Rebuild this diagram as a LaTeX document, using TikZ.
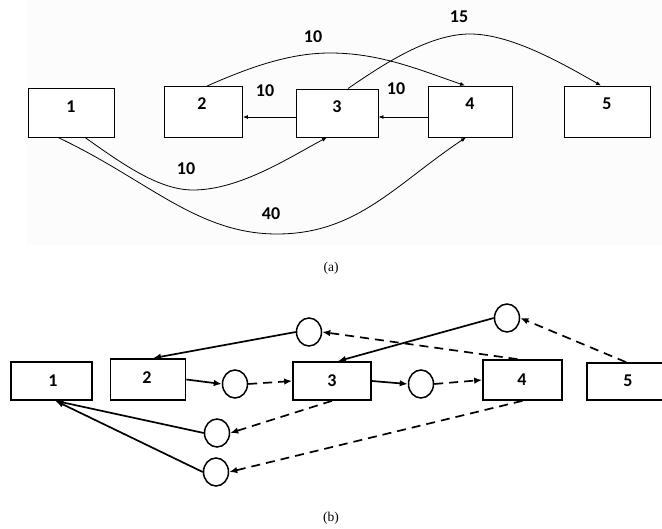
\documentclass[tikz,border=0pt]{standalone}
\usepackage{fontspec}
\setmainfont{Carlito}
\newfontfamily\capfont{Liberation Serif}
\usetikzlibrary{shapes.geometric, arrows.meta}

\tikzset{
  boxa/.style={draw, rectangle, line width=0.9pt, fill=white},
  boxb/.style={draw, rectangle, line width=1.7pt},
  num/.style={font=\fontsize{18}{21}\selectfont\bfseries, inner sep=0pt},
  cerchio/.style={draw, ellipse, line width=1.5pt, minimum width=25, minimum height=28, inner sep=0pt},
  linea/.style={-{Latex[length=5pt,width=4pt]}, line width=0.8pt},
  piena/.style={-{Latex[length=8pt,width=6.5pt]}, line width=1.7pt},
  tratto/.style={-{Latex[length=8pt,width=6.5pt]}, line width=1.7pt, dash pattern=on 9pt off 6pt},
  didascalia/.style={font=\capfont\fontsize{13.5}{15}\selectfont, inner sep=0pt}
}

\begin{document}
\begin{tikzpicture}[x=1pt, y=-1pt, >=latex]
    \useasboundingbox (0,0) rectangle (662,529);
    % Sfondo grigio del pannello (a)
    \fill[black!1.2] (27,0) rectangle (662,245);

    % Pannello (a): blocchi
    \node[boxa, minimum width=86, minimum height=49] (t1) at (71,112.5) {};
    \node[boxa, minimum width=78, minimum height=51] (t2) at (203.5,112) {};
    \node[boxa, minimum width=82, minimum height=48] (t3) at (337,113) {};
    \node[boxa, minimum width=84, minimum height=51] (t4) at (470.5,111.5) {};
    \node[boxa, minimum width=86, minimum height=51] (t5) at (607.5,111.5) {};
    \node[num] (t1n) at (71,107) {1};
    \node[num] (t2n) at (202,104) {2};
    \node[num] (t3n) at (337,107) {3};
    \node[num] (t4n) at (470,104) {4};
    \node[num] (t5n) at (607,104) {5};

    % Archi sopra i blocchi
    \draw[linea] ([xshift=3.5]t2.north) .. controls (250,67) and (290,53) .. (330,53)
        .. controls (380,53) and (420,70) .. ([xshift=-5.5]t4.north);
    \draw[linea] ([xshift=11]t3.north) .. controls (385,63) and (430,34) .. (470,34)
        .. controls (510,34) and (560,62) .. ([xshift=-6.5]t5.north);

    % Frecce orizzontali
    \draw[linea] (t3.west |- 0,117) -- (t2.east |- 0,117);
    \draw[linea] (t4.west |- 0,117) -- (t3.east |- 0,117);

    % Archi sotto i blocchi
    \draw[linea] ([xshift=14]t1.south) .. controls (125,166) and (160,190) .. (193,190)
        .. controls (240,190) and (290,157) .. ([xshift=-10]t3.south);
    \draw[linea] ([xshift=-13]t1.south) .. controls (148,180) and (197,234) .. (277,234)
        .. controls (357,234) and (396,184) .. ([xshift=-4.5]t4.south);

    % Pesi
    \node[num] (l24) at (313,37) {10};
    \node[num] (l35) at (459,17) {15};
    \node[num] (l32) at (265,91) {10};
    \node[num] (l43) at (396,89) {10};
    \node[num] (l13) at (186,169) {10};
    \node[num] (l14) at (271,214) {40};

    \node[didascalia] (capa) at (331,268) {(a)};

    % Pannello (b): blocchi
    \node[boxb, minimum width=81, minimum height=38] (b1) at (51.5,381) {};
    \node[boxb, minimum width=75, minimum height=41] (b2) at (148,379.5) {};
    \node[boxb, minimum width=78, minimum height=38] (b3) at (332,381) {};
    \node[boxb, minimum width=79, minimum height=40] (b4) at (522.5,380) {};
    \node[boxb, minimum width=78, minimum height=37] (b5) at (626,381.5) {};
    \node[num] (b1n) at (53,381) {1};
    \node[num] (b2n) at (147,378) {2};
    \node[num] (b3n) at (332,381) {3};
    \node[num] (b4n) at (522,380) {4};
    \node[num] (b5n) at (628,381) {5};

    % Cerchi intermedi
    \node[cerchio] (ca) at (309,332) {};
    \node[cerchio] (cb) at (507,318) {};
    \node[cerchio] (cc) at (235,384) {};
    \node[cerchio] (cd) at (421,384) {};
    \node[cerchio] (ce) at (217,433) {};
    \node[cerchio] (cf) at (216,472) {};

    % Collegamenti pieni
    \draw[piena] (ca.west) -- ([xshift=5]b2.north);
    \draw[piena] (cb.west) -- ([xshift=6]b3.north);
    \draw[piena] (b2.east) -- (cc.west);
    \draw[piena] (b3.east) -- (cd.west);
    \draw[piena] (ce.west) -- ([xshift=4]b1.south);
    \draw[piena] (cf.west) -- ([xshift=4]b1.south);

    % Collegamenti tratteggiati
    \draw[tratto] ([xshift=-5]b4.north) -- (ca.east);
    \draw[tratto] (b5.north) -- (cb.east);
    \draw[tratto] (cc.east) -- (b3.west);
    \draw[tratto] (cd.east) -- (b4.west);
    \draw[tratto] (b3.south) -- (ce.east);
    \draw[tratto] (b4.south) -- (cf.east);

    \node[didascalia] (capb) at (331,518) {(b)};
\end{tikzpicture}
\end{document}
